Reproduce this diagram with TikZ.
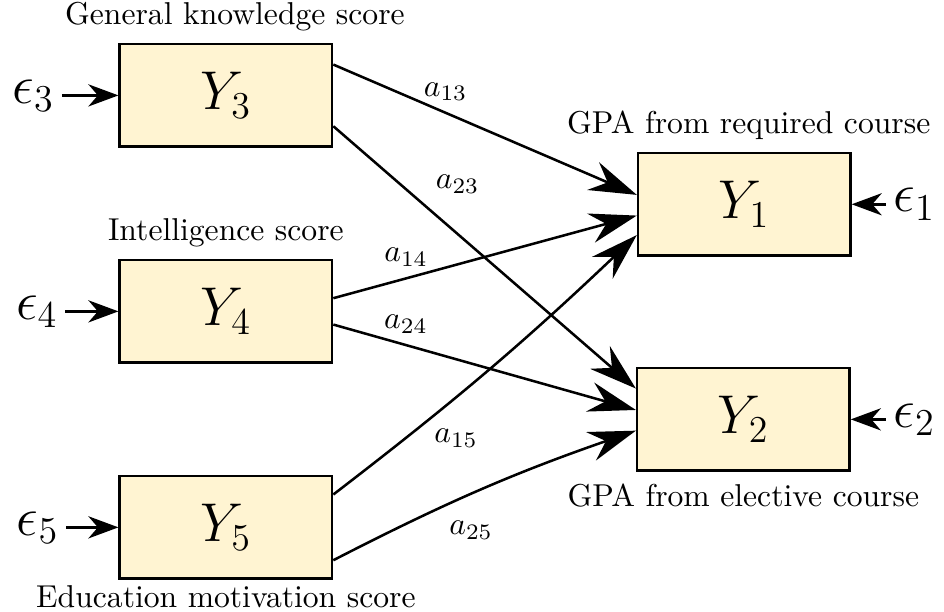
\documentclass[tikz,border=0pt]{standalone}
\usetikzlibrary{arrows.meta}
\definecolor{boxfill}{RGB}{255,244,210}
\begin{document}
\begin{tikzpicture}[thick,
        var/.style={draw,fill=boxfill,minimum width=2.36cm,minimum height=1.14cm,inner sep=0,font=\LARGE},
        err/.style={font=\LARGE,inner sep=2pt},
        coef/.style={-{Stealth[length=15pt,width=9.5pt,inset=5pt]}},
        noise/.style={-{Stealth[length=9.5pt,width=7pt,inset=3pt]}}]
    \useasboundingbox (0,0) rectangle (10.49,6.8);
    % observed variables
    \node[var,label={[xshift=1mm]above:General knowledge score}] (y3) at (2.51,5.74) {$Y_3$};
    \node[var,label=above:Intelligence score] (y4) at (2.51,3.34) {$Y_4$};
    \node[var,label={[yshift=2pt]below:Education motivation score}] (y5) at (2.51,0.94) {$Y_5$};
    \node[var,label={[xshift=0.5mm]above:GPA from required course}] (y1) at (8.27,4.53) {$Y_1$};
    \node[var,label=below:GPA from elective course] (y2) at (8.26,2.14) {$Y_2$};
    % error terms
    \node[err] (e3) at (0.37,5.74) {$\epsilon_3$};
    \node[err] (e4) at (0.41,3.34) {$\epsilon_4$};
    \node[err] (e5) at (0.42,0.94) {$\epsilon_5$};
    \node[err] (e1) at (10.16,4.53) {$\epsilon_1$};
    \node[err] (e2) at (10.16,2.14) {$\epsilon_2$};
    \draw[noise] (e3) -- (y3);
    \draw[noise] (e4) -- (y4);
    \draw[noise] (e5) -- (y5);
    \draw[noise] (e1) -- (y1);
    \draw[noise] (e2) -- (y2);
    % path coefficients
    \draw[coef] (y3.16) -- node[above,pos=.37] (l13) {$a_{13}$} (y1.175);
    \draw[coef] (y3.-16) -- node[above right,pos=.3] (l23) {$a_{23}$} (y2.164);
    \draw[coef] (y4.7) -- node[above,pos=.24] (l14) {$a_{14}$} (y1.186);
    \draw[coef] (y4.-7) -- node[above,pos=.24] (l24) {$a_{24}$} (y2.175);
    \draw[coef] (y5.17) to[bend right=3] node[below right,pos=.3,xshift=-3pt] (l15) {$a_{15}$} (y1.196);
    \draw[coef] (y5.-17) to[bend left=4] node[below right,pos=.34] (l25) {$a_{25}$} (y2.186);
\end{tikzpicture}
\end{document}
